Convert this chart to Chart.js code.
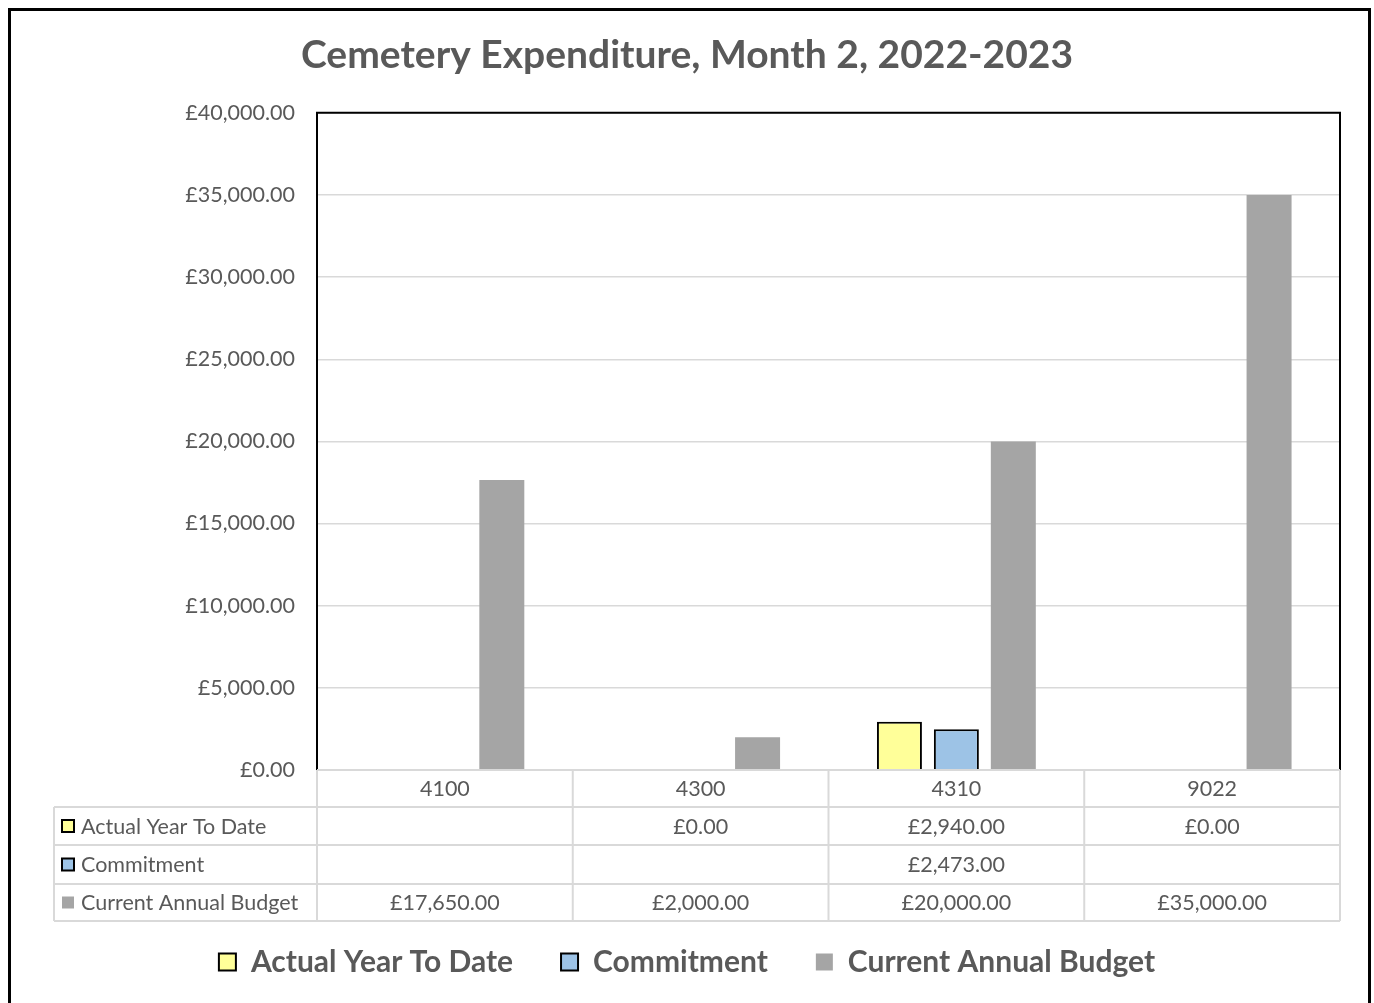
<!DOCTYPE html>
<html lang="en">
<head>
    <meta charset="UTF-8">
    <title>Cemetery Expenditure, Month 2, 2022-2023</title>
    <script src="https://cdn.jsdelivr.net/npm/chart.js"></script>
    <style>
        body { margin: 0; background: #fff; }
        canvas { display: block; }
    </style>
</head>
<body>
    <canvas id="costChart" width="1374" height="1003"></canvas>
    <script>
        // values
        const codes = ['4100', '4300', '4310', '9022'];
        const actualYtd = [null, 0, 2940, 0];
        const commitment = [null, null, 2473, null];
        const annualBudget = [17650, 2000, 20000, 35000];
        const seriesNames = ['Actual Year To Date', 'Commitment', 'Current Annual Budget'];

        const FONT = 'Lato';
        const TEXT = '#595959';
        const SMALL = 21.5;

        function money(v) {
            return '£' + v.toLocaleString('en-GB', { minimumFractionDigits: 2, maximumFractionDigits: 2 });
        }

        // outer frame + black plot border
        const framePlugin = {
            id: 'frame',
            beforeDraw(chart) {
                const ctx = chart.ctx;
                ctx.save();
                ctx.fillStyle = '#fff';
                ctx.fillRect(0, 0, chart.width, chart.height);
                ctx.strokeStyle = '#000';
                ctx.lineWidth = 3;
                ctx.strokeRect(9.5, 9.5, 1360, 1100);
                ctx.restore();
            },
            afterDatasetsDraw(chart) {
                const { ctx, chartArea: a } = chart;
                ctx.save();
                ctx.strokeStyle = '#000';
                ctx.lineWidth = 2;
                ctx.beginPath();
                ctx.moveTo(a.left, a.bottom);
                ctx.lineTo(a.left, a.top);
                ctx.lineTo(a.right, a.top);
                ctx.lineTo(a.right, a.bottom);
                ctx.stroke();
                ctx.restore();
            }
        };

        // data table under the axis
        const tablePlugin = {
            id: 'dataTable',
            afterDraw(chart) {
                const { ctx, chartArea: a } = chart;
                const rows = [a.bottom, a.bottom + 37, a.bottom + 75, a.bottom + 114, a.bottom + 151];
                const colW = (a.right - a.left) / codes.length;
                const labelLeft = 54;
                ctx.save();
                ctx.strokeStyle = '#d9d9d9';
                ctx.lineWidth = 2;
                ctx.beginPath();
                ctx.moveTo(a.left, rows[0]); ctx.lineTo(a.right, rows[0]);
                for (let r = 1; r < rows.length; r++) {
                    ctx.moveTo(labelLeft, rows[r]); ctx.lineTo(a.right, rows[r]);
                }
                for (let c = 0; c <= codes.length; c++) {
                    const x = a.left + c * colW;
                    ctx.moveTo(x, rows[0]); ctx.lineTo(x, rows[4]);
                }
                ctx.moveTo(labelLeft, rows[1]); ctx.lineTo(labelLeft, rows[4]);
                ctx.stroke();

                ctx.font = SMALL + 'px ' + FONT;
                ctx.textBaseline = 'middle';
                chart.data.datasets.forEach((ds, i) => {
                    const yMid = (rows[i + 1] + rows[i + 2]) / 2;
                    ctx.fillStyle = ds.backgroundColor;
                    ctx.fillRect(62, yMid - 6, 12, 12);
                    if (ds.borderWidth) {
                        ctx.strokeStyle = '#000';
                        ctx.lineWidth = 2;
                        ctx.strokeRect(62, yMid - 6, 12, 12);
                    }
                    ctx.fillStyle = TEXT;
                    ctx.textAlign = 'left';
                    ctx.fillText(ds.label, 81, yMid + 1);
                    ctx.textAlign = 'center';
                    ds.data.forEach((v, j) => {
                        if (v === null) return;
                        ctx.fillText(money(v), a.left + (j + 0.5) * colW, yMid + 1);
                    });
                });
                ctx.restore();
            }
        };

        new Chart(document.getElementById('costChart'), {
            type: 'bar',
            data: {
                labels: codes,
                datasets: [{
                    label: seriesNames[0],
                    data: actualYtd,
                    backgroundColor: '#ffff99',
                    borderColor: '#000',
                    borderWidth: 2
                }, {
                    label: seriesNames[1],
                    data: commitment,
                    backgroundColor: '#9dc3e6',
                    borderColor: '#000',
                    borderWidth: 2
                }, {
                    label: seriesNames[2],
                    data: annualBudget,
                    backgroundColor: '#a5a5a5',
                    borderWidth: 0
                }]
            },
            options: {
                responsive: false,
                animation: false,
                devicePixelRatio: 1,
                categoryPercentage: 0.668,
                barPercentage: 0.79,
                layout: { padding: { top: 10, left: 34, right: 34, bottom: 16 } },
                plugins: {
                    title: {
                        display: true,
                        text: 'Cemetery Expenditure, Month 2, 2022-2023',
                        color: TEXT,
                        font: { family: FONT, size: 39, weight: 'bold' },
                        padding: { top: 22, bottom: 34 }
                    },
                    legend: {
                        position: 'bottom',
                        labels: {
                            color: TEXT,
                            font: { family: FONT, size: 30, weight: 'bold' },
                            boxWidth: 17,
                            boxHeight: 17,
                            padding: 48
                        }
                    },
                    tooltip: { enabled: false }
                },
                scales: {
                    x: {
                        grid: { display: false },
                        border: { display: false },
                        ticks: { color: TEXT, font: { family: FONT, size: SMALL }, padding: -2 },
                        afterFit(s) { s.height = 129; }
                    },
                    y: {
                        min: 0,
                        max: 40000,
                        ticks: {
                            stepSize: 5000,
                            color: TEXT,
                            font: { family: FONT, size: SMALL },
                            padding: 22,
                            callback: v => money(v)
                        },
                        grid: { color: '#d9d9d9', lineWidth: 1.5, drawTicks: false },
                        border: { display: false },
                        afterFit(s) { s.width = 283; }
                    }
                }
            },
            plugins: [framePlugin, tablePlugin]
        });
    </script>
</body>
</html>
